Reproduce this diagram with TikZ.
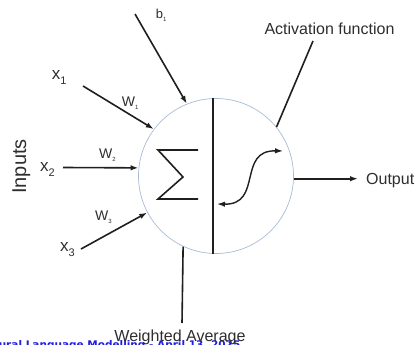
\documentclass[tikz,border=0pt]{standalone}
\usepackage{fontspec}
\setmainfont{Liberation Sans}
\newfontfamily\footfont{DejaVu Sans}
\usetikzlibrary{arrows.meta,positioning,calc}

\definecolor{inkgray}{HTML}{2E2E2E}
\definecolor{rimblue}{HTML}{A8BCD6}
\definecolor{footblue}{HTML}{1F1FE0}

\newcommand{\xin}[1]{x\raisebox{-5pt}{\fontsize{11}{11}\selectfont #1}}
\newcommand{\wsub}[2]{#1\raisebox{-3pt}{\fontsize{6}{6}\selectfont #2}}

\begin{document}
\begin{tikzpicture}[x=1pt, y=-1pt,
        lab/.style={font=\fontsize{16}{16}\selectfont, text=inkgray, inner sep=0pt},
        xlab/.style={font=\fontsize{17}{17}\selectfont, text=inkgray, inner sep=0pt, anchor=base west},
        wlab/.style={font=\fontsize{14}{14}\selectfont, text=inkgray, inner sep=0pt, anchor=base west},
        wire/.style={line width=1.6pt, draw=black!88},
        >={Latex[length=8pt,width=5.5pt]}
    ]
        \useasboundingbox (0,0) rectangle (415,345);

        % Neuron body
        \node[circle, draw=rimblue, line width=0.7pt, minimum size=155pt, inner sep=0pt] (neuron) at (216,176) {};
        \draw[wire] (neuron.92) -- (neuron.268);

        % Sum and activation
        \draw[wire, line join=miter] (198,150) -- (158,150) -- (183,177) -- (158,199) -- (198,199);
        \draw[wire, line width=1.4pt, <->] (217,204) .. controls (263,205) and (237,150) .. (283,151);

        % Inputs
        \node[xlab] (x1) at (51.7,80) {\xin{1}};
        \node[xlab] (x2) at (40,171) {\xin{2}};
        \node[xlab] (x3) at (60,251.7) {\xin{3}};
        \node[wlab] (w1) at (121.7,106.7) {\wsub{W}{1}};
        \node[wlab] (w2) at (99,158.3) {\wsub{W}{2}};
        \node[wlab] (w3) at (95,220.7) {\wsub{W}{3}};
        \node[lab, font=\fontsize{20}{20}\selectfont, rotate=90, anchor=base] (inputs) at (26,166.5) {Inputs};

        \coordinate (x1s) at (83,86);
        \coordinate (x2s) at (63,167.5);
        \coordinate (x3s) at (81,249);
        \draw[wire, ->] (x1s) -- (neuron.143);
        \draw[wire, ->] (x2s) -- (neuron.174);
        \draw[wire, ->] (x3s) -- (neuron.208);

        % Bias
        \node[wlab, font=\fontsize{13}{13}\selectfont] (b1) at (155.7,19) {\wsub{b}{1}};
        \coordinate (b1s) at (135,14);
        \draw[wire, ->] (b1s) -- (neuron.112);

        % Activation and output
        \node[lab, anchor=base] (act) at (329.5,34.3) {Activation function};
        \coordinate (acts) at (313,41);
        \draw[wire] (neuron.39) -- (acts);

        \node[lab, anchor=base west] (out) at (366,184.5) {Output};
        \draw[wire, ->, shorten >=8pt] (neuron.-2) -- (neuron.-2 -| out.west);

        % Footer and weighted average
        \node[font=\footfont\bfseries\fontsize{10.5}{10.5}\selectfont, text=footblue, anchor=base east, inner sep=0pt]
            (foot) at (240.5,348.5) {Neural Language Modelling - April 13, 2025};
        \node[lab, anchor=base] (wavg) at (180,341.5) {Weighted Average};
        \coordinate (wavgs) at (182,323);
        \draw[wire] (neuron.245) -- (wavgs);
    \end{tikzpicture}
\end{document}
